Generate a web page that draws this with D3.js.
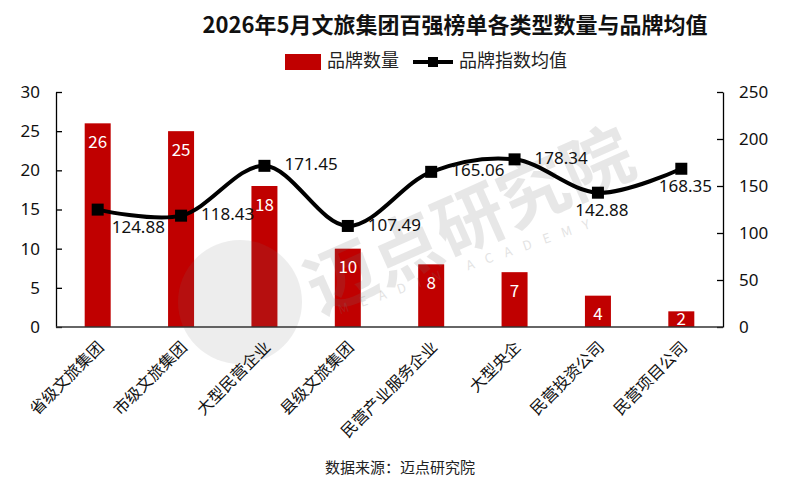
<!DOCTYPE html>
<html>
<head>
<meta charset="utf-8">
<script src="https://cdn.jsdelivr.net/npm/d3@7"></script>
<style>
  body { margin: 0; background: #fff; }
  svg { display: block; font-family: "Noto Sans CJK SC", "Noto Sans", sans-serif; }
</style>
</head>
<body>
<svg id="chart" width="800" height="497"></svg>
<script>
// 数据
const categories = ["省级文旅集团", "市级文旅集团", "大型民营企业", "县级文旅集团", "民营产业服务企业", "大型央企", "民营投资公司", "民营项目公司"];
const counts = [26, 25, 18, 10, 8, 7, 4, 2];
const brandAvg = [124.88, 118.43, 171.45, 107.49, 165.06, 178.34, 142.88, 168.35];
const leftTicks = [0, 5, 10, 15, 20, 25, 30];
const rightTicks = [0, 50, 100, 150, 200, 250];

// 折线标签的位置（b=下方, r=右侧, br=右下）
const labelPos = ["br", "r", "r", "r", "r", "r", "b", "b"];

const svg = d3.select("#chart");
const plotL = 56, plotR = 723, plotT = 92, plotB = 327;

const x = d3.scaleBand().domain(categories).range([plotL, plotR]).padding(0);
const yL = d3.scaleLinear().domain([0, 30]).range([plotB, plotT]);
const yR = d3.scaleLinear().domain([0, 250]).range([plotB, plotT]);
const barW = 26;

// 标题
svg.append("text")
  .attr("x", 455).attr("y", 33)
  .attr("text-anchor", "middle")
  .style("font-size", "22px").style("font-weight", "bold")
  .attr("fill", "#111")
  .text("2026年5月文旅集团百强榜单各类型数量与品牌均值");

// 图例
const lg = svg.append("g").attr("transform", "translate(0,62)");
lg.append("rect").attr("x", 285).attr("y", -8).attr("width", 36).attr("height", 16).attr("fill", "#C00000");
lg.append("text").attr("x", 327).attr("y", 0).attr("dominant-baseline", "middle")
  .style("font-size", "18px").attr("fill", "#222").text("品牌数量");
lg.append("line").attr("x1", 413).attr("x2", 453).attr("y1", 0).attr("y2", 0)
  .attr("stroke", "#000").attr("stroke-width", 4);
lg.append("rect").attr("x", 428).attr("y", -5).attr("width", 10).attr("height", 10).attr("fill", "#000");
lg.append("text").attr("x", 459).attr("y", 0).attr("dominant-baseline", "middle")
  .style("font-size", "18px").attr("fill", "#222").text("品牌指数均值");

// 柱子
svg.selectAll("rect.bar")
  .data(counts)
  .enter()
  .append("rect")
  .attr("class", "bar")
  .attr("x", (d, i) => x(categories[i]) + x.bandwidth() / 2 - barW / 2)
  .attr("y", d => yL(d))
  .attr("width", barW)
  .attr("height", d => plotB - yL(d))
  .attr("fill", "#C00000");

// 水印（半透明，盖在柱子上）
const wm = svg.append("g").attr("class", "watermark");
wm.append("circle").attr("cx", 240).attr("cy", 302).attr("r", 62)
  .attr("fill", "#777").attr("opacity", 0.13);
wm.append("text")
  .attr("transform", "translate(472,226) rotate(-24)")
  .attr("text-anchor", "middle").attr("dominant-baseline", "middle")
  .style("font-size", "70px").style("font-weight", "bold")
  .attr("fill", "#777").attr("opacity", 0.17)
  .text("迈点研究院");
wm.append("text")
  .attr("transform", "translate(470,266) rotate(-19)")
  .attr("text-anchor", "middle").attr("dominant-baseline", "middle")
  .style("font-size", "13px").style("letter-spacing", "12px")
  .attr("fill", "#777").attr("opacity", 0.2)
  .text("MEADIN ACADEMY");

svg.selectAll("text.barlabel")
  .data(counts)
  .enter()
  .append("text")
  .attr("class", "barlabel")
  .attr("x", (d, i) => x(categories[i]) + x.bandwidth() / 2)
  .attr("y", d => Math.min(yL(d) + 20, plotB - 7))
  .attr("text-anchor", "middle")
  .attr("dominant-baseline", "middle")
  .attr("fill", "#fff")
  .style("font-size", "17px")
  .text(d => d);

// 坐标轴
const axL = svg.append("g").attr("transform", `translate(${plotL},0)`)
  .call(d3.axisLeft(yL).tickValues(leftTicks).tickSizeInner(-6).tickSizeOuter(0).tickPadding(16));
const axR = svg.append("g").attr("transform", `translate(${plotR},0)`)
  .call(d3.axisRight(yR).tickValues(rightTicks).tickSizeInner(-6).tickSizeOuter(0).tickPadding(16));
[axL, axR].forEach(ax => {
  ax.select(".domain").attr("stroke", "#000").attr("stroke-width", 1.3);
  ax.selectAll(".tick line").attr("stroke", "#000").attr("stroke-width", 1.3);
  ax.selectAll(".tick text").style("font-size", "17px").attr("fill", "#111")
    .style("font-family", "'Noto Sans', sans-serif");
});
svg.append("line").attr("x1", plotL).attr("x2", plotR).attr("y1", plotB).attr("y2", plotB)
  .attr("stroke", "#333").attr("stroke-width", 1.3);

// x 轴标签
svg.selectAll("text.xlabel")
  .data(categories)
  .enter()
  .append("text")
  .attr("class", "xlabel")
  .attr("transform", d => `translate(${x(d) + x.bandwidth() / 2 + 4},${plotB + 18}) rotate(-45)`)
  .attr("text-anchor", "end")
  .attr("dominant-baseline", "middle")
  .style("font-size", "16px")
  .attr("fill", "#111")
  .text(d => d);

// 折线
const pts = brandAvg.map((v, i) => [x(categories[i]) + x.bandwidth() / 2, yR(v)]);
svg.append("path")
  .attr("d", d3.line().curve(d3.curveCatmullRom)(pts))
  .attr("fill", "none")
  .attr("stroke", "#000")
  .attr("stroke-width", 4);

svg.selectAll("rect.marker")
  .data(pts)
  .enter()
  .append("rect")
  .attr("class", "marker")
  .attr("x", d => d[0] - 6)
  .attr("y", d => d[1] - 6)
  .attr("width", 12)
  .attr("height", 12)
  .attr("fill", "#000");

svg.selectAll("text.linelabel")
  .data(brandAvg)
  .enter()
  .append("text")
  .attr("class", "linelabel")
  .attr("x", (d, i) => {
    const p = labelPos[i];
    return pts[i][0] + (p === "b" ? 4 : p === "br" ? 14 : 20);
  })
  .attr("y", (d, i) => pts[i][1] + (labelPos[i] === "r" ? 0 : 19))
  .attr("text-anchor", (d, i) => labelPos[i] === "b" ? "middle" : "start")
  .attr("dominant-baseline", "middle")
  .style("font-size", "17px")
  .style("font-family", "'Noto Sans', sans-serif")
  .attr("fill", "#111")
  .text(d => d.toFixed(2));

// 数据来源
svg.append("text")
  .attr("x", 400).attr("y", 469)
  .attr("text-anchor", "middle")
  .attr("dominant-baseline", "middle")
  .style("font-size", "15px")
  .attr("fill", "#222")
  .text("数据来源：迈点研究院");
</script>
</body>
</html>
